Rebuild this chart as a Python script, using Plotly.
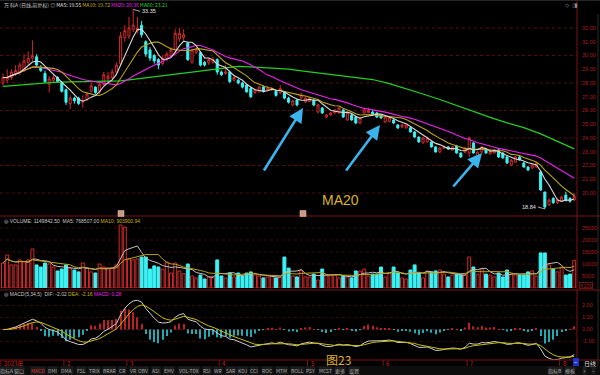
import plotly.graph_objects as go
import pandas as pd

# ---------------- data ----------------
open_ = [28.0, 28.2, 28.4, 28.7, 28.8, 28.9, 29.5, 29.8, 29.9, 29.1,
         28.7, 27.9, 28.2, 28.4, 28.0, 27.5, 26.5, 26.9, 26.9, 26.6,
         26.8, 27.4, 27.7, 27.4, 27.9, 28.3, 28.4, 28.8, 29.4, 31.3,
         31.4, 31.9, 31.8, 32.2, 31.0, 30.4, 30.0, 29.7, 29.4, 29.8,
         30.0, 30.4, 31.2, 31.3, 30.9, 29.5, 30.2, 30.2, 29.5, 29.45,
         29.5, 29.7, 28.8, 28.7, 28.8, 28.2, 28.2, 28.0, 27.85, 27.6,
         27.3, 27.4, 27.7, 27.45, 27.5, 27.4, 27.3, 27.35, 26.9, 26.4,
         26.76, 26.91, 26.62, 26.65, 26.76, 25.89, 26.18, 25.53, 25.67, 25.82,
         25.82, 26.04, 25.31, 25.67, 25.53, 25.09, 25.82, 25.85, 25.89, 25.82,
         25.67, 25.16, 25.2, 25.31, 24.95, 24.8, 24.73, 24.73, 24.44, 24.07,
         23.64, 23.71, 23.71, 23.35, 22.98, 23.27, 23.35, 23.13, 23.42, 22.91,
         22.98, 22.91, 23.64, 22.62, 22.98, 23.13, 22.84, 22.91, 23.13, 22.91,
         22.62, 22.04, 22.25, 22.62, 22.18, 21.89, 21.82, 21.89, 21.53, 20.07,
         19.13, 19.6, 19.3, 19.4, 19.85, 19.6, 19.5]
high_ = [28.7, 29.0, 29.0, 29.3, 29.5, 30.1, 30.3, 31.1, 30.1, 29.3,
         28.9, 28.5, 28.6, 28.5, 28.1, 27.6, 27.1, 27.0, 27.0, 27.1,
         27.3, 28.0, 27.75, 28.0, 28.8, 28.8, 29.0, 29.5, 31.7, 32.2,
         32.8, 33.35, 32.8, 32.5, 31.1, 30.6, 30.1, 29.8, 30.0, 30.3,
         30.6, 31.9, 32.0, 31.9, 31.0, 30.5, 30.6, 30.3, 29.6, 29.8,
         29.9, 29.8, 28.9, 29.3, 28.9, 28.6, 28.3, 28.1, 27.9, 27.7,
         27.6, 27.8, 27.8, 27.8, 27.7, 27.5, 27.85, 27.4, 27.0, 26.8,
         26.85, 27.3, 27.0, 26.95, 26.8, 26.5, 26.25, 25.75, 25.9, 26.1,
         26.25, 26.1, 25.9, 25.75, 25.6, 25.55, 26.15, 26.2, 26.0, 25.9,
         25.75, 25.6, 25.6, 25.35, 25.0, 25.05, 25.0, 24.8, 24.5, 24.1,
         24.1, 24.1, 23.75, 23.4, 23.35, 23.45, 23.4, 23.4, 23.5, 22.95,
         23.35, 24.1, 23.7, 23.0, 23.4, 23.2, 23.1, 23.2, 23.2, 22.95,
         22.7, 22.45, 22.7, 22.7, 22.25, 21.95, 22.1, 22.25, 21.6, 20.1,
         19.6, 19.7, 19.6, 19.8, 20.1, 19.7, 20.0]
low_ = [27.8, 28.0, 28.2, 28.5, 28.6, 28.8, 29.3, 29.6, 29.2, 28.8,
        28.0, 27.3, 28.0, 28.0, 27.3, 26.4, 26.1, 26.5, 26.4, 26.2,
        26.7, 27.3, 27.2, 27.2, 27.8, 28.1, 28.2, 28.6, 29.2, 31.0,
        31.2, 31.7, 31.6, 31.3, 29.9, 29.6, 29.4, 29.0, 29.3, 29.6,
        29.9, 30.2, 31.0, 31.1, 29.6, 29.4, 30.1, 29.2, 29.2, 29.3,
        29.4, 28.6, 28.5, 28.6, 28.0, 28.1, 27.9, 27.6, 27.3, 26.9,
        27.2, 27.3, 27.3, 27.4, 27.4, 27.0, 27.2, 26.8, 26.5, 26.3,
        26.3, 26.85, 26.55, 26.6, 26.3, 25.8, 25.75, 25.45, 25.6, 25.75,
        25.75, 25.45, 25.25, 25.25, 25.0, 25.0, 25.75, 25.8, 25.6, 25.45,
        25.4, 25.1, 25.15, 25.0, 24.65, 24.75, 24.7, 24.4, 24.0, 23.65,
        23.6, 23.65, 23.3, 22.95, 22.9, 23.2, 23.15, 23.1, 22.85, 22.55,
        22.9, 22.6, 22.85, 22.55, 22.9, 22.85, 22.8, 22.85, 22.55, 22.5,
        22.1, 21.95, 22.2, 22.35, 21.85, 21.6, 21.75, 21.85, 20.15, 18.84,
        19.05, 19.2, 19.2, 19.35, 19.4, 19.3, 19.4]
close_ = [28.4, 28.4, 28.8, 28.9, 29.3, 29.6, 29.8, 30.0, 29.3, 28.9,
          28.1, 28.3, 28.4, 28.1, 27.4, 26.6, 26.9, 26.7, 26.5, 26.65,
          27.2, 27.8, 27.3, 27.9, 28.6, 28.5, 28.8, 29.3, 31.4, 31.8,
          32.0, 32.2, 32.0, 31.5, 30.1, 29.8, 29.6, 29.3, 29.8, 30.1,
          30.4, 31.6, 31.6, 31.5, 29.7, 30.4, 30.4, 29.3, 29.3, 29.7,
          29.7, 28.8, 28.6, 28.8, 28.1, 28.4, 28.0, 27.7, 27.35, 27.0,
          27.5, 27.7, 27.4, 27.6, 27.55, 27.1, 27.6, 26.9, 26.6, 26.7,
          26.4, 27.13, 26.91, 26.9, 26.4, 26.4, 25.82, 25.67, 25.82, 26.04,
          26.18, 25.53, 25.82, 25.31, 25.09, 25.45, 26.04, 26.0, 25.67, 25.53,
          25.45, 25.53, 25.5, 25.09, 24.73, 24.95, 24.95, 24.44, 24.07, 23.71,
          24.0, 24.0, 23.35, 22.98, 23.27, 23.35, 23.2, 23.35, 22.91, 22.62,
          23.27, 24.0, 22.91, 22.98, 23.35, 22.91, 23.05, 23.13, 22.62, 22.55,
          22.18, 22.4, 22.62, 22.4, 21.89, 21.67, 22.04, 22.18, 20.22, 18.98,
          19.49, 19.3, 19.5, 19.7, 19.45, 19.4, 19.75]
volume_ = [10400, 13750, 9600, 9600, 11700, 10800, 11700, 16250, 9600, 8750,
           10400, 10000, 8750, 7100, 7900, 9600, 8300, 7500, 6700, 10400,
           8300, 6700, 6250, 10000, 8750, 8300, 8300, 9600, 26250, 25400,
           12100, 11700, 12100, 12900, 12900, 7900, 9200, 8750, 7900, 10800,
           6250, 10400, 7100, 6000, 10000, 5000, 4200, 5400, 3750, 4600,
           4600, 11700, 5000, 4200, 6250, 4600, 6250, 5000, 6250, 6700,
           5400, 5000, 4200, 4600, 5000, 4200, 4600, 12900, 8300, 5000,
           4600, 7500, 4600, 4600, 5800, 3300, 7900, 5400, 5400, 5400,
           4200, 5000, 4600, 4200, 7100, 7100, 7900, 5000, 5800, 5800,
           8750, 4600, 6250, 8750, 6250, 4200, 3750, 7500, 9600, 6250,
           4200, 7100, 6700, 7100, 7500, 5800, 4600, 5400, 5800, 5400,
           5400, 12900, 8750, 5800, 7900, 5800, 5400, 4600, 6250, 4600,
           7500, 5800, 5400, 5400, 5400, 6700, 7100, 5000, 14600, 14600,
           9600, 7900, 6700, 8750, 5400, 5800, 11498]
ma60_idx = list(range(0, 137, 4))
ma60_val = [27.75, 27.85, 27.95, 28.05, 28.08, 28.1, 28.12, 28.15, 28.3, 28.45,
            28.6, 28.75, 28.95, 29.1, 29.2, 29.15, 29.1, 29.0, 28.85, 28.7,
            28.55, 28.45, 28.25, 27.95, 27.6, 27.2, 26.8, 26.35, 25.95, 25.5,
            25.1, 24.75, 24.3, 23.75, 23.21]

price_ticks = [20, 21, 22, 23, 24, 25, 26, 27, 28, 29, 30, 31, 32]
price_grid = [20, 22, 24, 26, 28, 30, 32]
vol_ticks = [5000, 10000, 15000, 20000, 25000]
macd_ticks = [-1, 0, 1, 2]
month_labels = ["2023年", "2", "3", "4", "5", "6", "7", "8"]
month_start = [0, 15, 30, 52, 73, 91, 111, 133]

hdr_name = "万 科A (日线,前复权)"
hdr_ma5, hdr_ma10, hdr_ma20, hdr_ma60 = "19.55", "19.72", "20.98", "23.21"
vol_now, vol_ma5, vol_ma10 = "1149842.50", "768507.00", "903900.94"
macd_dif, macd_dea, macd_val = "-2.02", "-2.16", "0.28"
tab_labels = ["指标A", "窗口", "MACD", "DMI", "DMA", "FSL", "TRIX", "BRAR", "CR", "VR",
              "OBV", "ASI", "EMV", "VOL-TDX", "RSI", "WR", "SAR", "KDJ", "CCI", "ROC",
              "MTM", "BOLL", "PSY", "MCST", "更多", "设置"]

# ---------------- styling / layout constants ----------------
W, H = 600, 375
RED = "#d42a2a"
CYAN = "#3cf2f4"
AXC = "#b01c1c"
GRID = "#5a0c0c"
SEP = "#7a1212"
C_MA5 = "#d8d8d8"
C_MA10 = "#b8a614"
C_MA20 = "#ee22ee"
C_MA60 = "#22d022"
FONT = "Liberation Sans, DejaVu Sans, sans-serif"
CJK = "Noto Sans CJK SC, Liberation Sans, sans-serif"
tab_x = [7, 18.5, 37.5, 52, 67, 81, 94, 110, 123, 133, 143, 156, 168.5, 188.5, 207, 218,
         230.5, 242.5, 254, 266.5, 281.5, 297, 310, 325, 340, 354]


def PX(x):
    return x / W


def PY(y):
    return 1 - y / H


def span(t, col):
    return f'<span style="color:{col}">{t}</span>'


N = len(close_)
idx = list(range(N))
s = pd.Series(close_, dtype=float)
ma5 = s.rolling(5, min_periods=1).mean()
ma10 = s.rolling(10, min_periods=1).mean()
ma20 = s.rolling(20, min_periods=1).mean()
ema_f = s.ewm(span=5, adjust=False).mean()
ema_s = s.ewm(span=34, adjust=False).mean()
dif = ema_f - ema_s
dea = dif.ewm(span=5, adjust=False).mean()
hist = 2 * (dif - dea)
v = pd.Series(volume_, dtype=float)
vma5 = v.rolling(5, min_periods=1).mean()
vma10 = v.rolling(10, min_periods=1).mean()
up = [c >= o for o, c in zip(open_, close_)]

fig = go.Figure()
fig.add_trace(go.Candlestick(
    x=idx, open=open_, high=high_, low=low_, close=close_,
    increasing=dict(line=dict(color=RED, width=1), fillcolor="#000000"),
    decreasing=dict(line=dict(color=CYAN, width=1), fillcolor=CYAN),
    whiskerwidth=0, hoverinfo="skip", xaxis="x", yaxis="y"))
fig.add_trace(go.Scatter(x=ma60_idx, y=ma60_val, mode="lines", line=dict(color=C_MA60, width=1.2),
                         xaxis="x", yaxis="y", hoverinfo="skip"))
for yy, col in [(ma20, C_MA20), (ma10, C_MA10), (ma5, C_MA5)]:
    fig.add_trace(go.Scatter(x=idx, y=yy, mode="lines", line=dict(color=col, width=1.1),
                             xaxis="x", yaxis="y", hoverinfo="skip"))

fig.add_trace(go.Bar(
    x=idx, y=volume_, width=0.7,
    marker=dict(color=["#000000" if u else CYAN for u in up],
                line=dict(color=[RED if u else CYAN for u in up], width=1)),
    xaxis="x2", yaxis="y2", hoverinfo="skip"))
fig.add_trace(go.Scatter(x=idx, y=vma5, mode="lines", line=dict(color="#c0c0c0", width=1),
                         xaxis="x2", yaxis="y2", hoverinfo="skip"))
fig.add_trace(go.Scatter(x=idx, y=vma10, mode="lines", line=dict(color=C_MA10, width=1),
                         xaxis="x2", yaxis="y2", hoverinfo="skip"))

fig.add_trace(go.Bar(
    x=idx, y=hist, width=0.25,
    marker=dict(color=["#b82222" if h >= 0 else "#22aab4" for h in hist], line=dict(width=0)),
    xaxis="x3", yaxis="y3", hoverinfo="skip"))
fig.add_trace(go.Scatter(x=idx, y=dif, mode="lines", line=dict(color="#d0d0d0", width=1),
                         xaxis="x3", yaxis="y3", hoverinfo="skip"))
fig.add_trace(go.Scatter(x=idx, y=dea, mode="lines", line=dict(color="#c8c000", width=1),
                         xaxis="x3", yaxis="y3", hoverinfo="skip"))

XR = [-0.714, 136.66]
XD = [0, 577 / W]
xcommon = dict(domain=XD, range=XR, visible=False, fixedrange=True)
ycommon = dict(side="right", showgrid=False, zeroline=False, showline=False, ticks="",
               tickfont=dict(size=5.5, color=AXC, family=FONT), ticklabelstandoff=4,
               fixedrange=True)

shapes = []
for g in price_grid:
    shapes.append(dict(type="line", xref="x domain", yref="y", x0=0, x1=1, y0=g, y1=g,
                       line=dict(color=GRID, width=1, dash="dot"), layer="below"))
for g in vol_ticks:
    shapes.append(dict(type="line", xref="x2 domain", yref="y2", x0=0, x1=1, y0=g, y1=g,
                       line=dict(color="#3a0808", width=1, dash="dot"), layer="below"))
for g in macd_ticks:
    shapes.append(dict(type="line", xref="x3 domain", yref="y3", x0=0, x1=1, y0=g, y1=g,
                       line=dict(color="#3a0808" if g else GRID, width=1, dash="dot"), layer="below"))
for yp in (216, 290, 360):
    shapes.append(dict(type="line", xref="paper", yref="paper", x0=0, x1=1, y0=PY(yp), y1=PY(yp),
                       line=dict(color=SEP, width=1)))
shapes.append(dict(type="line", xref="paper", yref="paper", x0=PX(577), x1=PX(577),
                   y0=PY(366), y1=1, line=dict(color=SEP, width=1)))
shapes.append(dict(type="line", xref="paper", yref="paper", x0=PX(598), x1=PX(598),
                   y0=PY(366), y1=PY(14), line=dict(color="#2a2a2a", width=1)))
shapes.append(dict(type="line", xref="paper", yref="paper", x0=0, x1=1, y0=PY(0.5), y1=PY(0.5),
                   line=dict(color="#262626", width=1)))
shapes.append(dict(type="rect", xref="paper", yref="paper", x0=0, x1=1, y0=0, y1=PY(366),
                   fillcolor="#0d0d0d", line=dict(width=0)))
for m in month_start:
    shapes.append(dict(type="line", xref="x3", yref="paper", x0=m - 0.5, x1=m - 0.5,
                       y0=PY(366), y1=PY(360), line=dict(color=SEP, width=1)))
for xp in (118, 300):
    shapes.append(dict(type="rect", xref="paper", yref="paper", x0=PX(xp), x1=PX(xp + 6),
                       y0=PY(216.5), y1=PY(210.5), fillcolor="#c89a86",
                       line=dict(color="#e8c8b8", width=0.5)))
shapes.append(dict(type="rect", xref="paper", yref="paper", x0=PX(573), x1=PX(579),
                   y0=PY(366), y1=PY(358), fillcolor="#2030c8", line=dict(width=0)))

ann = []


def txt(t, x, y, col, size=5.5, anchor="left", fam=FONT, **kw):
    ann.append(dict(text=t, x=PX(x), y=PY(y), xref="paper", yref="paper", showarrow=False,
                    xanchor=anchor, yanchor="middle", font=dict(size=size, color=col, family=fam), **kw))


# panel headers (one text per row, coloured parts)
txt(span(hdr_name + " ◎ ", "#c8c8c8") + span("MA5: " + hdr_ma5 + " ", "#e0e0e0")
    + span("MA10: " + hdr_ma10 + " ", "#c8b400") + span("MA20: " + hdr_ma20 + " ", C_MA20)
    + span("MA60: " + hdr_ma60, "#30d030"), 2, 4.5, "#c8c8c8", size=5, fam=CJK)
txt("◇  ◨", 563, 4.5, "#9a9a9a", size=5.5)
txt(span("◎ VOLUME: " + vol_now + "  MA5: " + vol_ma5 + " ", "#c8c8c8")
    + span("MA10: " + vol_ma10, "#c8b400"), 2, 220.5, "#c8c8c8", size=5)
txt(span("◎ MACD(5,34,5)  DIF: " + macd_dif + " ", "#c8c8c8")
    + span("DEA: " + macd_dea + " ", "#c8b400") + span("MACD: " + macd_val, C_MA20),
    2, 293.5, "#c8c8c8", size=5)
txt("X100", 579, 285, AXC, size=5.5, bordercolor=AXC, borderwidth=0.6, borderpad=0)

for lab, m in zip(month_labels, month_start):
    ann.append(dict(text=lab, x=m - 0.5, y=PY(363), xref="x3", yref="paper", showarrow=False,
                    xanchor="left", yanchor="middle", xshift=1,
                    font=dict(size=6, color="#c82020", family=CJK)))
txt("−", 576, 362, "#ffffff", size=6, anchor="center")
txt("日线", 582, 363, "#e0e0e0", size=6, fam=CJK)

for lab, xc in zip(tab_labels, tab_x):
    txt(lab, xc, 370.5, "#e03030" if lab == "MACD" else "#a8a8a8", size=5, anchor="center",
        fam=CJK, bgcolor="#1c1c1c", borderpad=0)
for lab, xc in [("指标B", 555), ("模板", 570), ("+", 584), ("−", 593)]:
    txt(lab, xc, 370.5, "#a8a8a8", size=5, anchor="center", fam=CJK, bgcolor="#1c1c1c", borderpad=0)

hi_i = max(idx, key=lambda i: high_[i])
lo_i = min(idx, key=lambda i: low_[i])
ann.append(dict(text=f"{high_[hi_i]:.2f}", x=hi_i, y=high_[hi_i], xref="x", yref="y",
                showarrow=True, arrowhead=0, arrowwidth=0.8, arrowcolor="#d0d0d0",
                ax=7, ay=2, xanchor="left", font=dict(size=5.5, color="#e0e0e0", family=FONT)))
ann.append(dict(text=f"{low_[lo_i]:.2f}", x=lo_i, y=low_[lo_i], xref="x", yref="y",
                showarrow=True, arrowhead=0, arrowwidth=0.8, arrowcolor="#d0d0d0",
                ax=-7, ay=-2, xanchor="right", font=dict(size=5.5, color="#e0e0e0", family=FONT)))

for hx, hy, tx, ty in [(303, 108, 263, 172), (380, 125, 345, 172), (482, 153, 452, 188)]:
    ann.append(dict(text="", x=PX(hx), y=PY(hy), xref="paper", yref="paper", showarrow=True,
                    ax=tx - hx, ay=ty - hy, arrowhead=2, arrowsize=1.1, arrowwidth=2.6,
                    arrowcolor="#3ab4ec"))
txt("MA20", 340, 200, "#dcb02a", size=14, anchor="center")
txt("图23", 338, 359, "#dcb02a", size=12, anchor="center", fam=CJK)

fig.update_layout(
    width=W, height=H, margin=dict(l=0, r=0, t=0, b=0),
    paper_bgcolor="#000000", plot_bgcolor="#000000",
    showlegend=False, hovermode=False, barmode="overlay", boxgap=0.3,
    xaxis=dict(**xcommon, anchor="y", rangeslider=dict(visible=False)),
    xaxis2=dict(**xcommon, anchor="y2"),
    xaxis3=dict(**xcommon, anchor="y3"),
    yaxis=dict(**ycommon, domain=[PY(212), PY(8)], range=[18.62, 33.45], anchor="x",
               tickvals=price_ticks, ticktext=[f"{t:.2f}" for t in price_ticks]),
    yaxis2=dict(**ycommon, domain=[PY(288), PY(216)], range=[0, 30000], anchor="x2",
                tickvals=vol_ticks, ticktext=[str(t) for t in vol_ticks]),
    yaxis3=dict(**ycommon, domain=[PY(360), PY(291)], range=[-2.54, 3.21], anchor="x3",
                tickvals=macd_ticks, ticktext=[f"{t:.2f}" for t in macd_ticks]),
    shapes=shapes, annotations=ann,
)

fig.write_html("out.html", config={"displayModeBar": False},
               post_script="document.body.style.margin='0';document.body.style.overflow='hidden';")
